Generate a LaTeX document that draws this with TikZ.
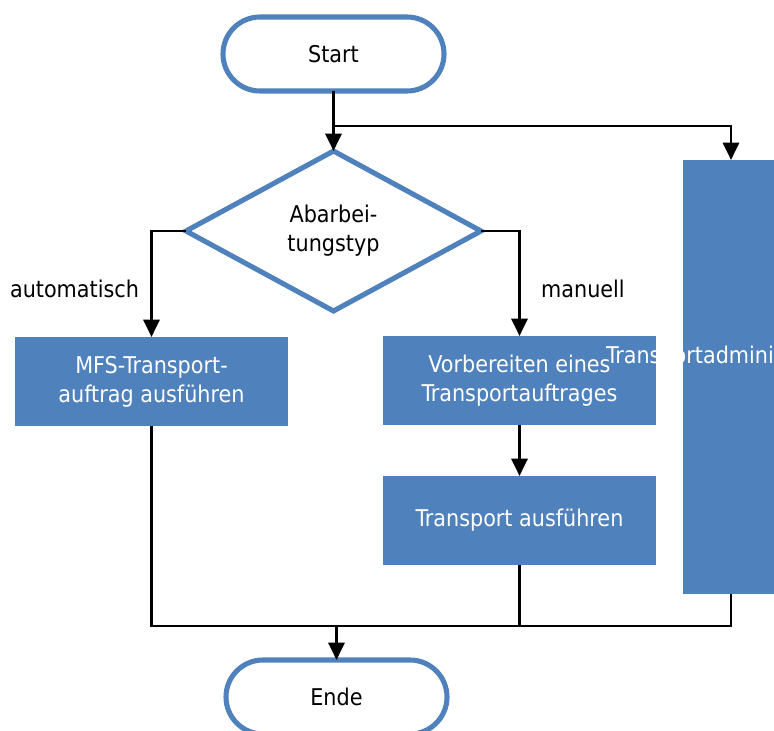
\documentclass[tikz,border=0pt]{standalone}
\usepackage{fontspec}
\setmainfont{DejaVu Sans Condensed}
\usetikzlibrary{shapes.geometric,arrows.meta}
\definecolor{flowblue}{HTML}{4F81BD}

\begin{document}
\begin{tikzpicture}[x=0.75pt,y=-0.75pt,
  every node/.style={inner sep=0pt, outer sep=0pt,
    font=\fontsize{17.3}{21.75}\selectfont},
  terminal/.style={draw=flowblue, line width=3.8pt, fill=white,
    rounded corners=27.75pt, minimum width=165.75pt, minimum height=55.5pt},
  decision/.style={diamond, draw=flowblue, line width=3.8pt, fill=white,
    minimum width=221.25pt, minimum height=120pt, align=center},
  process/.style={fill=flowblue, text=white, minimum width=204.75pt,
    minimum height=66.75pt, align=center},
  flow/.style={line width=2.2pt, draw=black},
  arrow/.style={flow, -{Triangle[length=13pt, width=12pt]}},
  branchlabel/.style={text=black}
]
\useasboundingbox (0,0) rectangle (774,731);

% start, decision and processing steps
\node[terminal] (start) at (333.5,54) {Start};
\node[decision] (type) at (333.5,231) {Abarbei-\\tungstyp};
\node[process] (mfs) at (151.5,381.5) {MFS-Transport-\\auftrag ausführen};
\node[process] (prep) at (519.5,380.5) {Vorbereiten eines\\Transportauftrages};
\node[process] (run) at (519.5,520.5) {Transport ausführen};
\node[terminal] (end) at (336.5,697) {Ende};

% branch labels
\node[branchlabel] (lauto) at (74.5,289) {automatisch};
\node[branchlabel] (lman) at (583,289) {manuell};

% junction points
\coordinate (split) at (333.5,126);
\coordinate (merge) at (336.5,626);

% parallel administration lane
\node[fill=flowblue, minimum width=72pt, minimum height=325.5pt] (admin) at (731,377) {};
\node[text=white, anchor=west] (admintext) at (606,357) {Transportadministration};

% connectors
\draw[arrow] (start.south) -- (type.north);
\draw[arrow] (split) -| (admin.north);
\draw[arrow] (type.west) -| (mfs.north);
\draw[arrow] (type.east) -| (prep.north);
\draw[arrow] (prep.south) -- (run.north);
\draw[flow] (mfs.south) |- (merge);
\draw[flow] (run.south) |- (merge);
\draw[flow] (admin.south) |- (merge);
\draw[arrow] (merge) -- (end.north);
\end{tikzpicture}
\end{document}
